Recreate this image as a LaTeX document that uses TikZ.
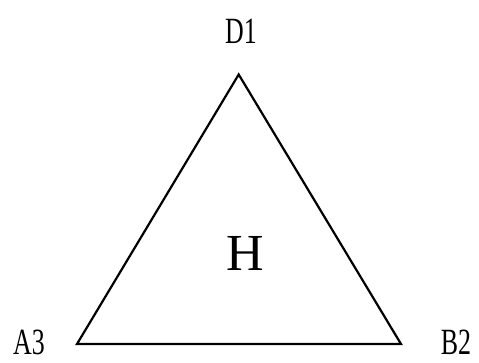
\documentclass[tikz,border=0pt]{standalone}
\usepackage{fontspec}
\setmainfont{Liberation Serif}
\begin{document}
\begin{tikzpicture}[x=1pt,y=-1pt,
  vlabel/.style={inner sep=0pt,font=\fontsize{37}{39}\selectfont},
  hlabel/.style={inner sep=0pt,font=\fontsize{52}{54}\selectfont},
  edge/.style={line width=2.2pt,line join=miter}]
\useasboundingbox (0,0) rectangle (479,362);
\coordinate (d) at (238.7,74.5);
\coordinate (a) at (77,344);
\coordinate (b) at (401,344);
\draw[edge] (d) -- (b) -- (a) -- cycle;
\node[vlabel] (ld) at (241,31) {\scalebox{0.7}[1]{D1}};
\node[vlabel] (la) at (29,342) {\scalebox{0.7}[1]{A3}};
\node[vlabel] (lb) at (456,342) {\scalebox{0.7}[1]{B2}};
\node[hlabel] (h) at (245,253) {H};
\end{tikzpicture}
\end{document}
